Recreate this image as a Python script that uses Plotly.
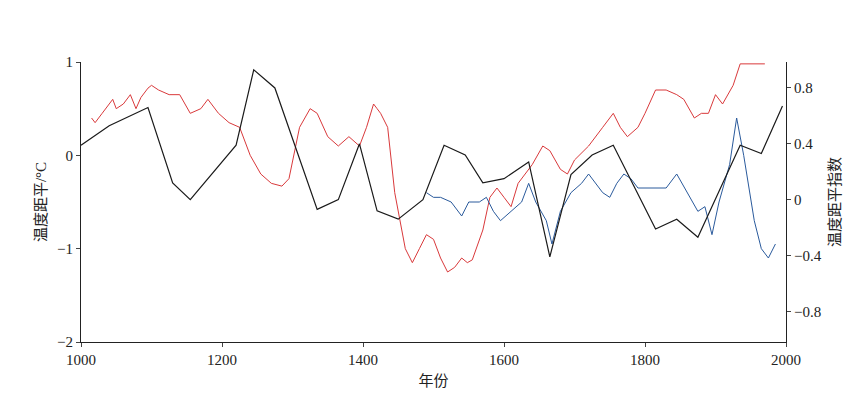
import plotly.graph_objects as go

black_years = [1000,1040,1095,1130,1155,1220,1245,1275,1335,1365,1395,1420,1450,1485,1515,1545,1570,1600,1635,1665,1695,1725,1755,1815,1845,1875,1935,1965,1995]
black_vals = [0.39,0.53,0.66,0.12,0,0.39,0.93,0.80,-0.07,0,0.4,-0.08,-0.14,0,0.39,0.32,0.12,0.15,0.27,-0.41,0.18,0.32,0.39,-0.21,-0.14,-0.27,0.39,0.33,0.67]

red_years = [1015,1020,1030,1045,1050,1060,1070,1078,1085,1095,1100,1110,1125,1140,1155,1170,1180,1195,1210,1225,1240,1255,1270,1285,1295,1310,1325,1335,1350,1365,1380,1395,1405,1415,1420,1425,1435,1445,1460,1470,1480,1490,1500,1510,1520,1530,1540,1548,1555,1570,1580,1590,1600,1610,1620,1630,1640,1655,1665,1680,1690,1700,1720,1740,1755,1765,1775,1790,1800,1815,1830,1845,1855,1870,1880,1890,1900,1910,1925,1935,1970]
red_vals = [0.4,0.35,0.45,0.6,0.5,0.55,0.65,0.5,0.62,0.72,0.75,0.7,0.65,0.65,0.45,0.5,0.6,0.45,0.35,0.3,0.0,-0.2,-0.3,-0.33,-0.25,0.3,0.5,0.45,0.2,0.1,0.2,0.1,0.3,0.55,0.5,0.45,0.3,-0.4,-1.0,-1.15,-1.0,-0.85,-0.9,-1.1,-1.25,-1.2,-1.1,-1.15,-1.12,-0.8,-0.45,-0.35,-0.45,-0.55,-0.3,-0.2,-0.1,0.1,0.05,-0.15,-0.2,-0.05,0.1,0.3,0.45,0.3,0.2,0.3,0.45,0.7,0.7,0.65,0.6,0.4,0.45,0.45,0.65,0.55,0.75,0.98,0.98]

blue_years = [1490,1500,1510,1525,1540,1550,1565,1575,1585,1595,1610,1625,1635,1645,1660,1668,1680,1695,1710,1720,1740,1750,1760,1770,1780,1790,1800,1815,1830,1845,1860,1875,1885,1895,1905,1920,1930,1940,1955,1965,1975,1985]
blue_vals = [-0.4,-0.45,-0.45,-0.5,-0.65,-0.5,-0.5,-0.45,-0.6,-0.7,-0.6,-0.5,-0.3,-0.5,-0.7,-0.95,-0.6,-0.4,-0.3,-0.2,-0.4,-0.45,-0.3,-0.2,-0.25,-0.35,-0.35,-0.35,-0.35,-0.2,-0.4,-0.6,-0.55,-0.85,-0.5,-0.1,0.4,0.0,-0.7,-1.0,-1.1,-0.95]

font = "Liberation Serif, Noto Sans CJK SC"
fig = go.Figure()
fig.add_trace(go.Scatter(x=red_years, y=red_vals, mode="lines", line=dict(color="#d9393b", width=1)))
fig.add_trace(go.Scatter(x=blue_years, y=blue_vals, mode="lines", line=dict(color="#2a5a9c", width=1)))
fig.add_trace(go.Scatter(x=black_years, y=black_vals, mode="lines", yaxis="y2", line=dict(color="#1a1a1a", width=1.2)))

fig.update_layout(
    width=864, height=413, showlegend=False, plot_bgcolor="white", paper_bgcolor="white",
    margin=dict(l=73, r=86, t=54, b=79),
    font=dict(family=font, size=15, color="#222"),
    xaxis=dict(range=[1000, 2000], tickvals=[1000,1200,1400,1600,1800,2000], showline=True, linecolor="#222",
               ticks="outside", ticklen=4, showgrid=False, zeroline=False,
               title=dict(text="年份", standoff=8, font=dict(size=15))),
    yaxis=dict(range=[-2, 1], tickvals=[-2,-1,0,1], ticktext=["−2","−1","0","1"], showline=True, linecolor="#222",
               ticks="outside", ticklen=4, showgrid=False, zeroline=False,
               title=dict(text="温度距平/°C", standoff=6, font=dict(size=15))),
    yaxis2=dict(range=[-1.02, 0.986], overlaying="y", side="right", tickvals=[-0.8,-0.4,0,0.4,0.8],
                ticktext=["−0.8","−0.4","0","0.4","0.8"], showline=True, linecolor="#222",
                ticks="outside", ticklen=4, showgrid=False, zeroline=False,
                title=dict(text="温度距平指数", standoff=8, font=dict(size=15))),
)
fig.write_html("out.html")
